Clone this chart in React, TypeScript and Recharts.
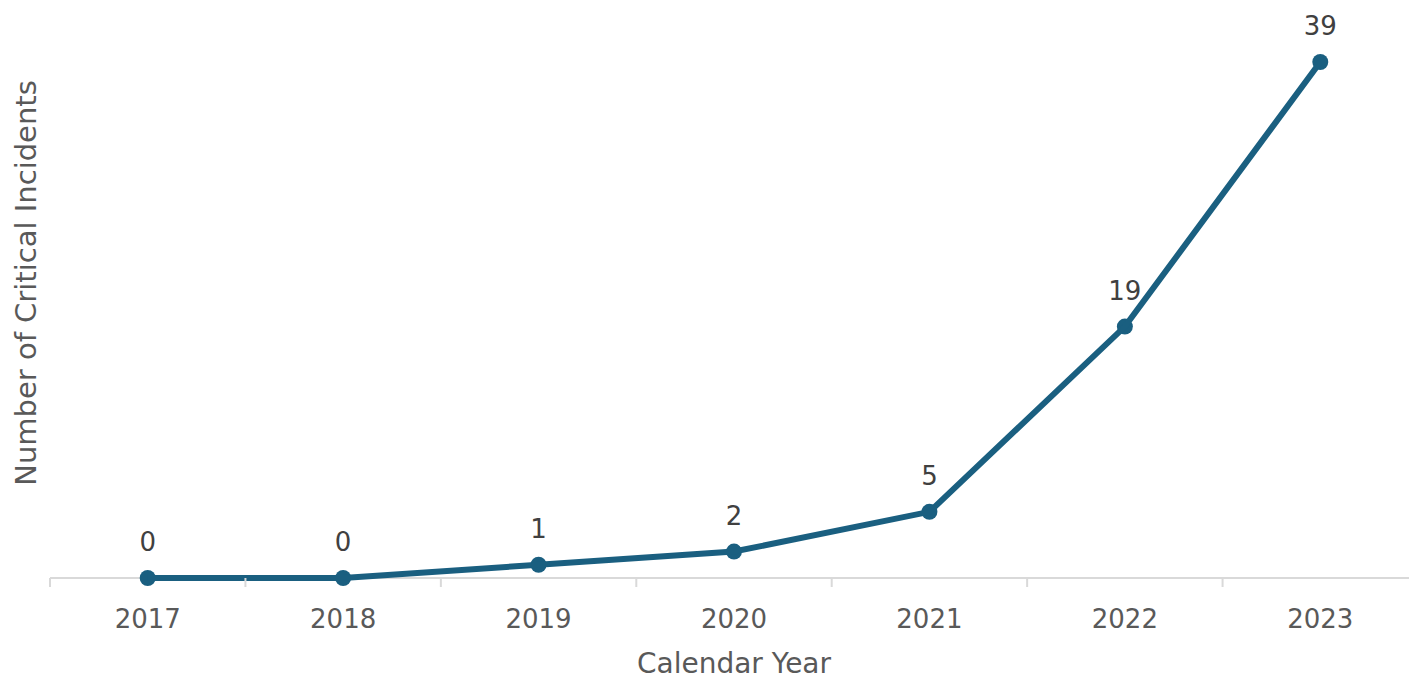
import React from 'react';
import { LineChart, Line, XAxis, YAxis, LabelList, Label } from 'recharts';

const years = ['2017', '2018', '2019', '2020', '2021', '2022', '2023'];
const incidents = [0, 0, 1, 2, 5, 19, 39];

const data = years.map((year, i) => ({ year, incidents: incidents[i] }));

const W = 1418;
const H = 681;
const LEFT = 50;
const AXIS_Y = 578;
const BAND = (W - LEFT) / years.length;
const FONT = '"DejaVu Sans", sans-serif';
const LINE = '#1a5f80';

function YearTick(props: any) {
  const { x, payload } = props;
  const left = x - BAND / 2;
  return (
    <g>
      <line x1={left} y1={AXIS_Y} x2={left} y2={AXIS_Y + 9} stroke="#d9d9d9" strokeWidth={2} />
      <text x={x} y={AXIS_Y + 50} textAnchor="middle" fill="#595959" fontSize={26} fontFamily={FONT}>
        {payload.value}
      </text>
    </g>
  );
}

export default function App() {
  return (
    <div style={{ position: 'absolute', left: 0, top: 0, width: 1409, height: H, overflow: 'hidden', background: '#fff' }}>
      <LineChart width={W} height={H} data={data} margin={{ top: 62, right: 0, bottom: 43, left: 0 }}>
        <XAxis
          dataKey="year"
          scale="band"
          axisLine={{ stroke: '#d9d9d9', strokeWidth: 2 }}
          tickLine={false}
          tick={<YearTick />}
          height={60}
          interval={0}
          zIndex={0}
        >
          <Label
            content={() => (
              <text x={734} y={673} textAnchor="middle" fill="#595959" fontSize={28} fontFamily={FONT}>
                Calendar Year
              </text>
            )}
          />
        </XAxis>
        <YAxis width={LEFT} domain={[0, 39]} axisLine={false} tickLine={false} tick={false}>
          <Label
            content={() => (
              <text
                x={36}
                y={283}
                transform="rotate(-90 36 283)"
                textAnchor="middle"
                fill="#595959"
                fontSize={29}
                fontFamily={FONT}
              >
                Number of Critical Incidents
              </text>
            )}
          />
        </YAxis>
        <Line
          type="linear"
          dataKey="incidents"
          stroke={LINE}
          strokeWidth={6}
          dot={{ r: 8, fill: LINE, stroke: LINE, strokeWidth: 0 }}
          isAnimationActive={false}
          zIndex={800}
        >
          <LabelList dataKey="incidents" position="top" offset={27} fill="#404040" fontSize={26} fontFamily={FONT} />
        </Line>
      </LineChart>
    </div>
  );
}
